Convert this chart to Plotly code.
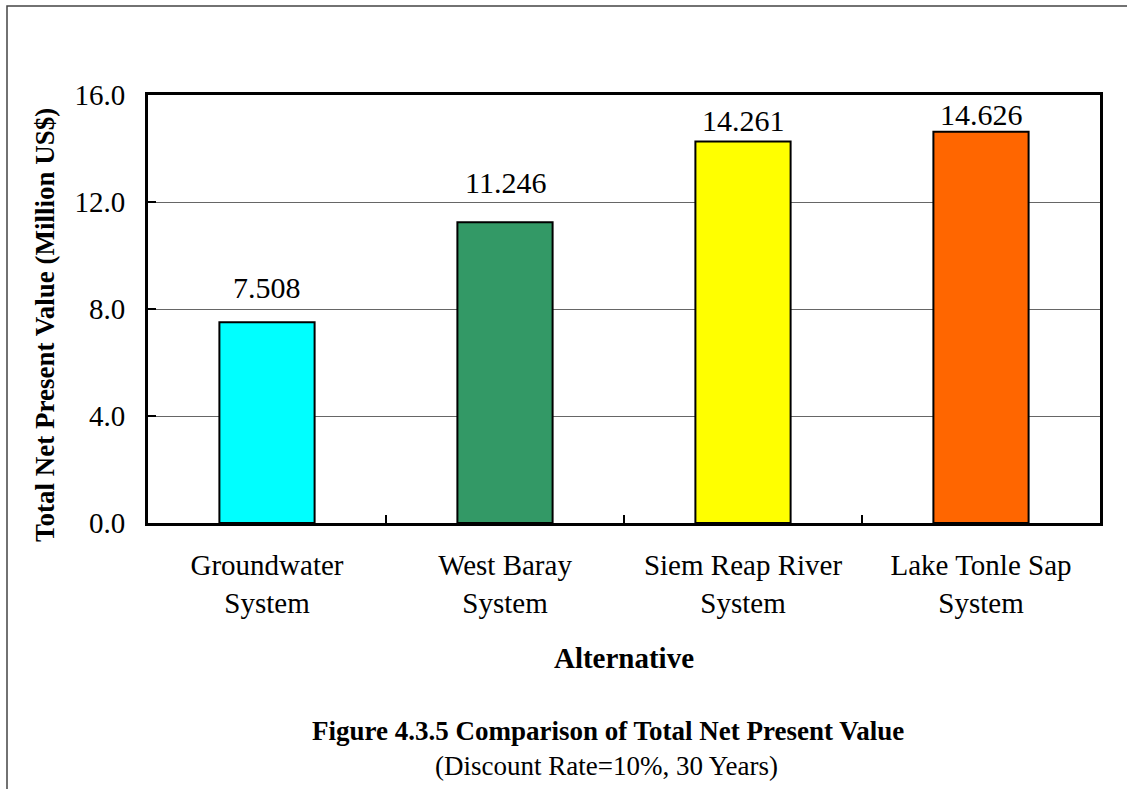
import plotly.graph_objects as go

categories = ["Groundwater<br>System", "West Baray<br>System", "Siem Reap River<br>System", "Lake Tonle Sap<br>System"]
values = [7.508, 11.246, 14.261, 14.626]
bar_labels = ["7.508", "11.246", "14.261", "14.626"]
colors = ["#00FFFF", "#339966", "#FFFF00", "#FF6600"]
y_ticks = [0, 4, 8, 12, 16]
y_tick_labels = ["0.0", "4.0", "8.0", "12.0", "16.0"]

# label offsets (pixels above bar top), style only
label_shifts = [16, 21, 3, -1]

W, H = 1127, 789
L, R, T, B = 148, 27, 95, 266
pw, ph = W - L - R, H - T - B

def px(x):
    return (x - L) / pw

def py(y):
    return (H - B - y) / ph

FONT = "Liberation Serif, Times New Roman, serif"

fig = go.Figure()
fig.add_trace(go.Bar(
    x=categories, y=values,
    marker=dict(color=colors, line=dict(color="black", width=2)),
    width=0.4,
    cliponaxis=False,
))
for c, v, t, s in zip(categories, values, bar_labels, label_shifts):
    fig.add_annotation(
        x=c, y=v, text=t, showarrow=False, xanchor="center", yanchor="bottom",
        yshift=s, font=dict(family=FONT, size=30, color="black"),
    )

fig.update_layout(
    width=W, height=H,
    margin=dict(l=L, r=R, t=T, b=B),
    paper_bgcolor="white", plot_bgcolor="white",
    showlegend=False,
    font=dict(family=FONT, color="black"),
    bargap=0.6,
)
fig.update_xaxes(
    showline=True, linecolor="black", linewidth=3, mirror=True,
    ticks="inside", tickson="boundaries", ticklen=8, tickwidth=2, tickcolor="black",
    tickfont=dict(family=FONT, size=29, color="black"),
    ticklabelstandoff=14,
    title=dict(text="<b>Alternative</b>", font=dict(family=FONT, size=29, color="black"), standoff=31),
    showgrid=False,
)
fig.update_yaxes(
    range=[0, 16], tickvals=y_ticks, ticktext=y_tick_labels,
    showline=True, linecolor="black", linewidth=3, mirror=True,
    ticks="inside", ticklen=8, tickwidth=2, tickcolor="black",
    tickfont=dict(family=FONT, size=29, color="black"),
    ticklabelstandoff=14,
    showgrid=True, gridcolor="#666666", gridwidth=1,
    zeroline=False,
)

fig.add_annotation(
    text="<b>Total Net Present Value (Million US$)</b>",
    xref="paper", yref="paper", x=px(45), y=py(325), textangle=-90,
    showarrow=False, xanchor="center", yanchor="middle",
    font=dict(family=FONT, size=27, color="black"),
)
fig.add_annotation(
    text="<b>Figure 4.3.5 Comparison of Total Net Present Value</b>",
    xref="paper", yref="paper", x=px(608), y=py(731),
    showarrow=False, xanchor="center", yanchor="middle",
    font=dict(family=FONT, size=27, color="black"),
)
fig.add_annotation(
    text="(Discount Rate=10%, 30 Years)",
    xref="paper", yref="paper", x=px(606), y=py(766),
    showarrow=False, xanchor="center", yanchor="middle",
    font=dict(family=FONT, size=27, color="black"),
)
fig.add_shape(
    type="rect", xref="paper", yref="paper",
    x0=px(7), x1=px(1140), y0=py(800), y1=py(6),
    line=dict(color="#444444", width=1.5), layer="below",
)

fig.write_html("out.html")
